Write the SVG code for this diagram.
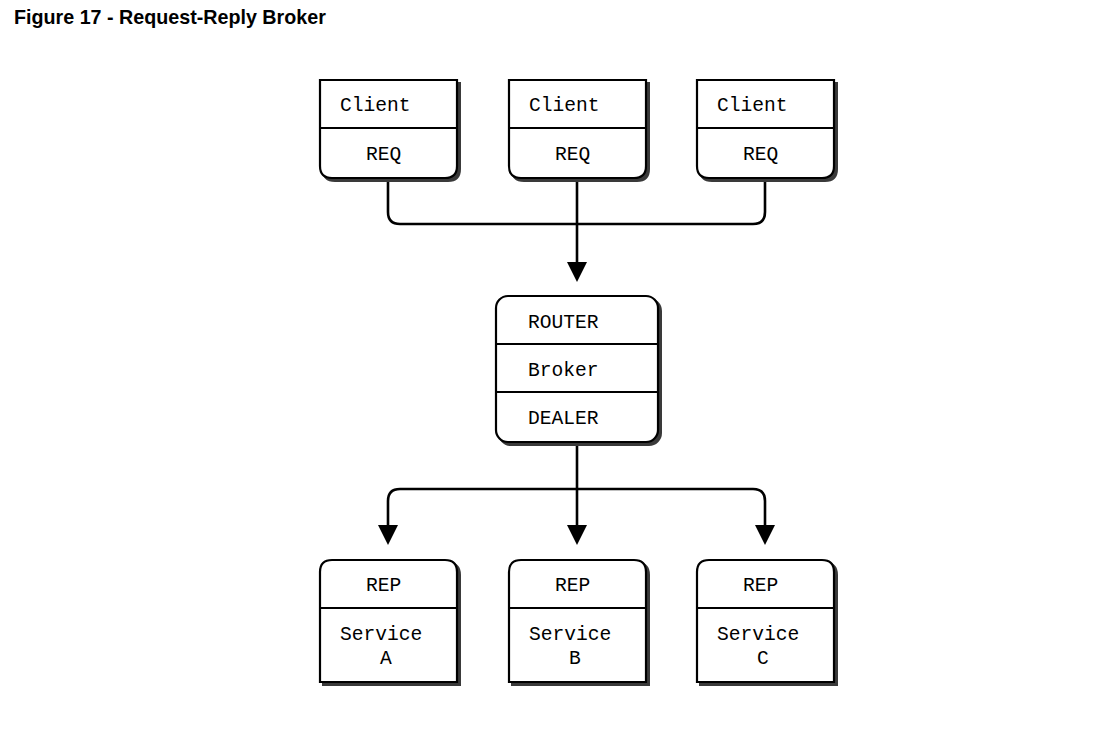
<svg xmlns="http://www.w3.org/2000/svg" width="1101" height="734" viewBox="0 0 1101 734">
<defs>
<style>
.sh{fill:#3a3a3a;stroke:#3a3a3a;stroke-width:2}
.bx{fill:#fff;stroke:#000;stroke-width:2.2}
.dv{stroke:#000;stroke-width:2.2}
.t{font-family:"Liberation Mono","DejaVu Sans Mono",monospace;font-size:19.6px;fill:#000}
.c{fill:none;stroke:#000;stroke-width:2.6}
.ah{fill:#000}
</style>
<path id="cl" d="M0,0 H137 V86 Q137,98 125,98 H12 Q0,98 0,86 Z"/>
<path id="sv" d="M0,122 V12 Q0,0 12,0 H125 Q137,0 137,12 V122 Z"/>
</defs>
<rect width="1101" height="734" fill="#fff"/>
<text x="14" y="24" font-family="Liberation Sans,Arial,sans-serif" font-weight="bold" font-size="19.7" fill="#000">Figure 17 - Request-Reply Broker</text>

<g id="connectors">
<path class="c" d="M388,178 V212 Q388,224 400,224 H753 Q765,224 765,212 V178"/>
<path class="c" d="M577,178 V264"/>
<polygon class="ah" points="567,262 587,262 577,282"/>
<path class="c" d="M577,442 V527"/>
<path class="c" d="M388,527 V501 Q388,489 400,489 H753 Q765,489 765,501 V527"/>
<polygon class="ah" points="378,525 398,525 388,545"/>
<polygon class="ah" points="567,525 587,525 577,545"/>
<polygon class="ah" points="755,525 775,525 765,545"/>
</g>

<g id="client1" transform="translate(320,80)">
<use href="#cl" class="sh" x="3" y="3"/>
<use href="#cl" class="bx"/>
<line class="dv" x1="0" y1="48" x2="137" y2="48"/>
<text class="t" x="20" y="31">Client</text>
<text class="t" x="46" y="80">REQ</text>
</g>
<g id="client2" transform="translate(509,80)">
<use href="#cl" class="sh" x="3" y="3"/>
<use href="#cl" class="bx"/>
<line class="dv" x1="0" y1="48" x2="137" y2="48"/>
<text class="t" x="20" y="31">Client</text>
<text class="t" x="46" y="80">REQ</text>
</g>
<g id="client3" transform="translate(697,80)">
<use href="#cl" class="sh" x="3" y="3"/>
<use href="#cl" class="bx"/>
<line class="dv" x1="0" y1="48" x2="137" y2="48"/>
<text class="t" x="20" y="31">Client</text>
<text class="t" x="46" y="80">REQ</text>
</g>

<g id="broker" transform="translate(496,296)">
<rect class="sh" x="3" y="3" width="162" height="146" rx="12"/>
<rect class="bx" x="0" y="0" width="162" height="146" rx="12"/>
<line class="dv" x1="0" y1="48" x2="162" y2="48"/>
<line class="dv" x1="0" y1="96" x2="162" y2="96"/>
<text class="t" x="32" y="32">ROUTER</text>
<text class="t" x="32" y="80">Broker</text>
<text class="t" x="32" y="128">DEALER</text>
</g>

<g id="serviceA" transform="translate(320,560)">
<use href="#sv" class="sh" x="3" y="3"/>
<use href="#sv" class="bx"/>
<line class="dv" x1="0" y1="48" x2="137" y2="48"/>
<text class="t" x="46" y="31">REP</text>
<text class="t" x="20" y="80">Service</text>
<text class="t" x="60" y="104">A</text>
</g>
<g id="serviceB" transform="translate(509,560)">
<use href="#sv" class="sh" x="3" y="3"/>
<use href="#sv" class="bx"/>
<line class="dv" x1="0" y1="48" x2="137" y2="48"/>
<text class="t" x="46" y="31">REP</text>
<text class="t" x="20" y="80">Service</text>
<text class="t" x="60" y="104">B</text>
</g>
<g id="serviceC" transform="translate(697,560)">
<use href="#sv" class="sh" x="3" y="3"/>
<use href="#sv" class="bx"/>
<line class="dv" x1="0" y1="48" x2="137" y2="48"/>
<text class="t" x="46" y="31">REP</text>
<text class="t" x="20" y="80">Service</text>
<text class="t" x="60" y="104">C</text>
</g>
</svg>
